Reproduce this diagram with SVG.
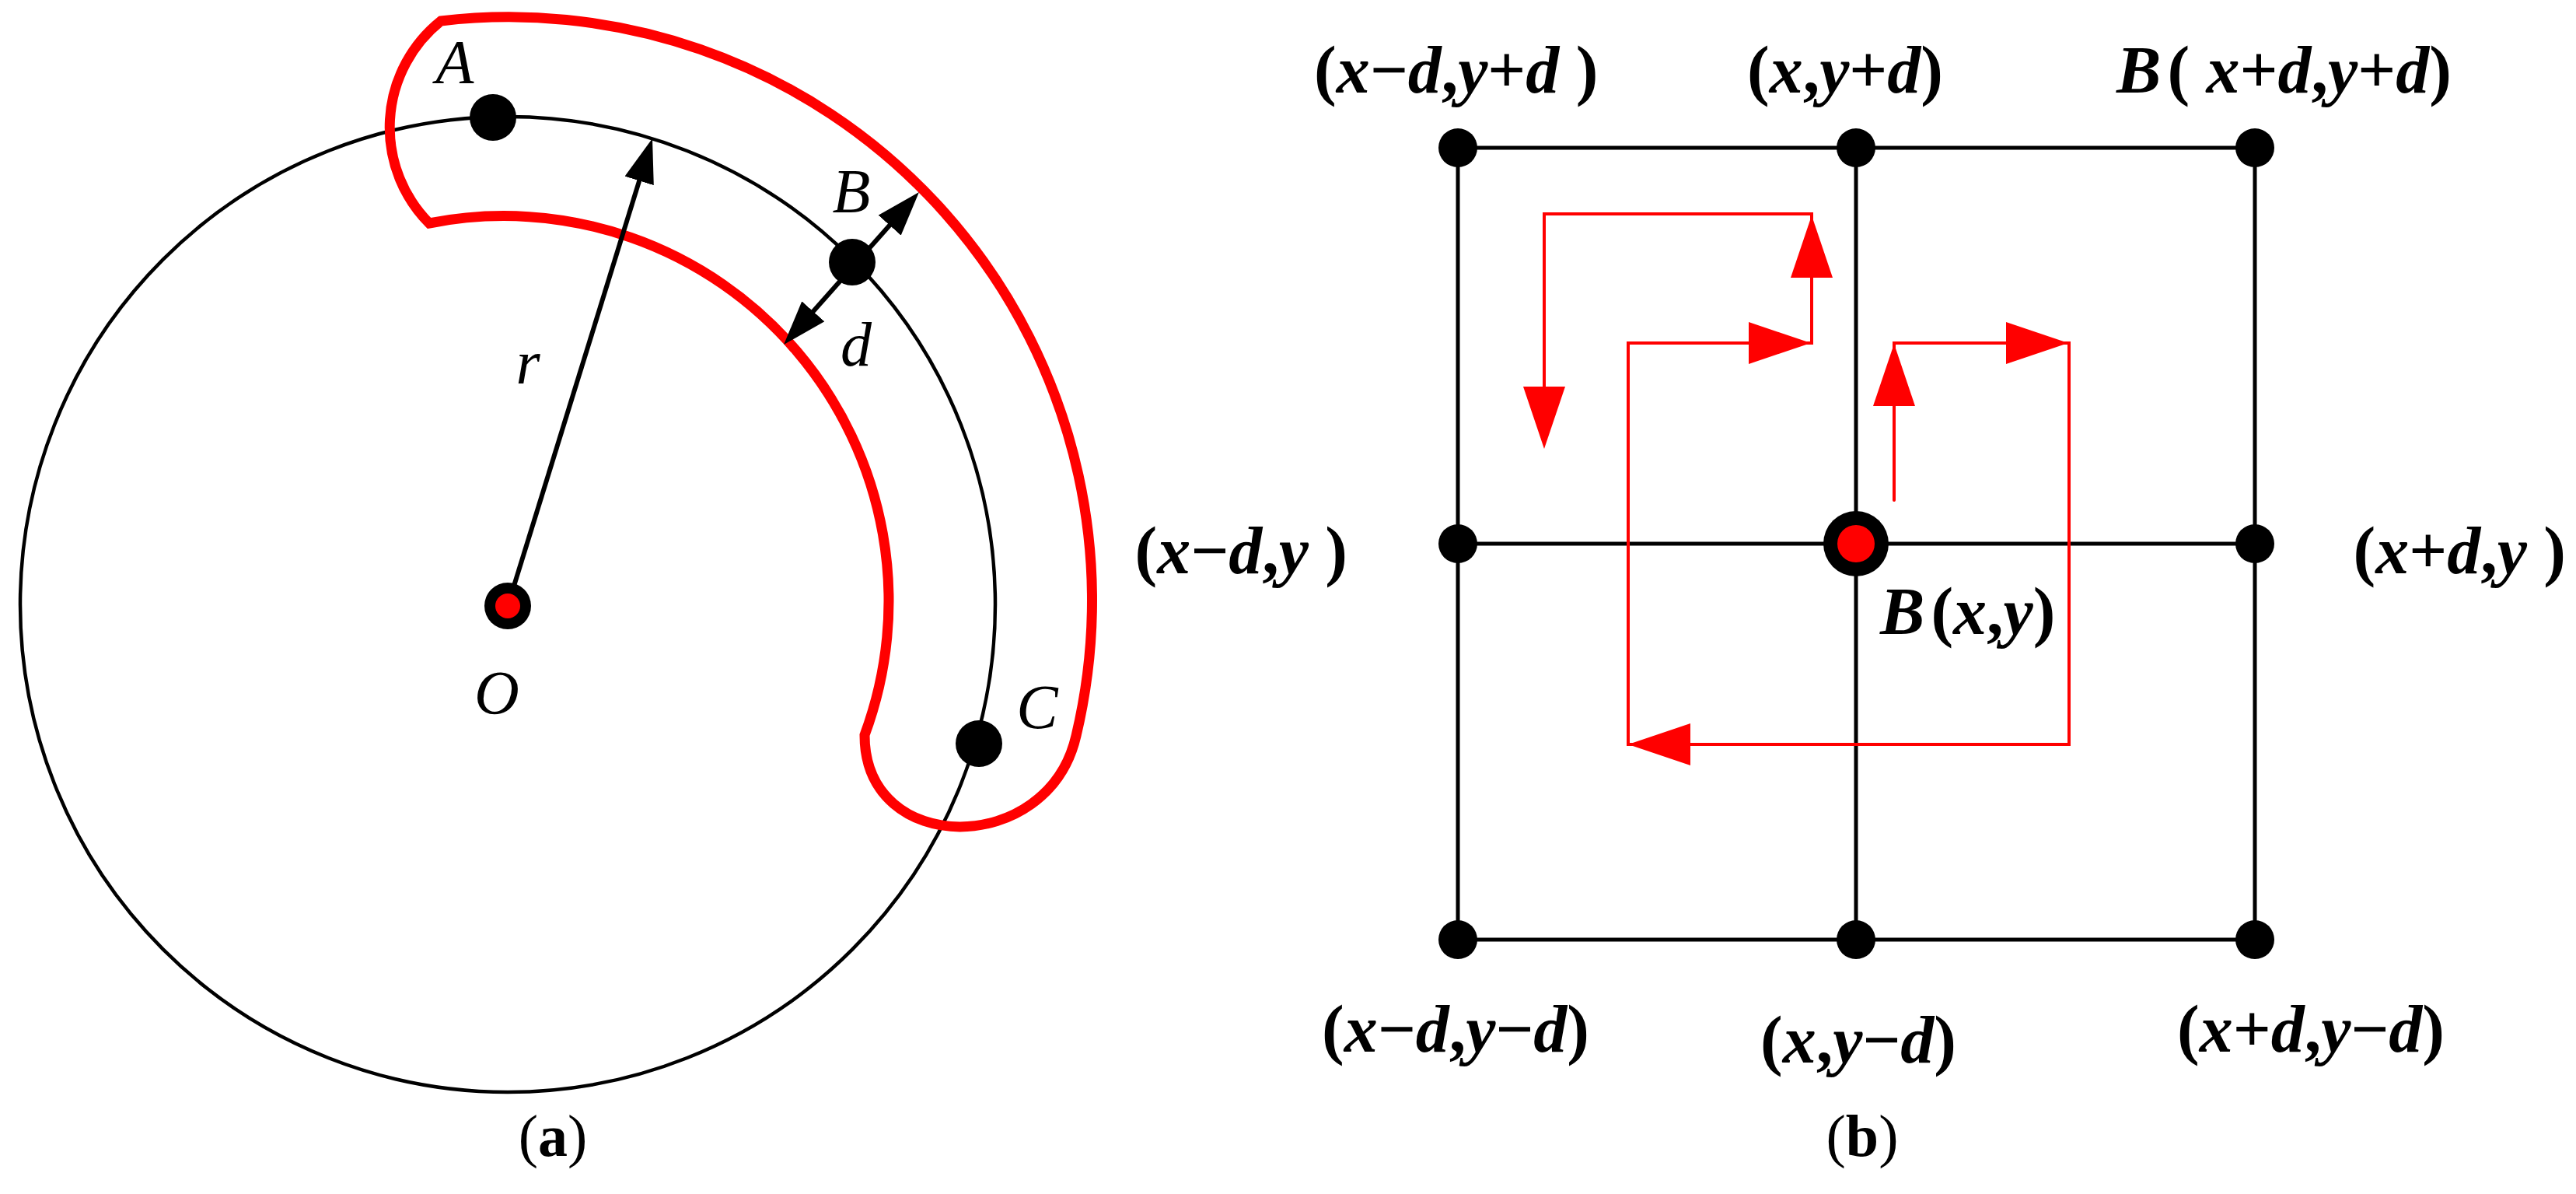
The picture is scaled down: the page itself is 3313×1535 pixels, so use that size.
<svg xmlns="http://www.w3.org/2000/svg" xmlns:xlink="http://www.w3.org/1999/xlink" width="3313" height="1535" viewBox="0 0 3313 1535">
<style>
.lbl{font-family:"Liberation Serif","Times New Roman",serif;font-style:italic;font-size:80px;fill:#000;text-anchor:middle}
.co{font-family:"Liberation Serif","Times New Roman",serif;font-weight:bold;font-size:86px;fill:#000}
.i{font-style:italic}
.cap{font-family:"Liberation Serif","Times New Roman",serif;font-size:76px;fill:#000;text-anchor:middle}
.grid{stroke:#000;stroke-width:5;fill:none}
.dot{fill:#000}
.red{stroke:#FF0000;fill:none}
</style>
<defs>
<marker id="ab" markerUnits="userSpaceOnUse" markerWidth="57" markerHeight="39" viewBox="0 0 57 39" refX="37" refY="19.5" orient="auto-start-reverse">
<path d="M0,0 L57,19.5 L0,39 Z" fill="#000"/>
</marker>
<path id="rh" d="M0,0 L-80,-27 L-80,27 Z" fill="#FF0000"/>
</defs>
<rect width="3313" height="1535" fill="#fff"/>

<!-- Panel (a) -->
<g id="circle"><circle cx="653" cy="777" r="627" fill="none" stroke="#000" stroke-width="4.5"/></g>
<g id="band"><path class="red" stroke-width="13" stroke-linejoin="miter" d="M567,27 A750,750 0 0 1 1384,946 C1348,1102 1112,1102 1112,945 A495,495 0 0 0 552,287 A175,175 0 0 1 567,27 Z"/></g>
<g id="connectors-a">
<line x1="653" y1="779" x2="833.1" y2="197.1" stroke="#000" stroke-width="6" marker-end="url(#ab)"/>
<line x1="1021.3" y1="428" x2="1168.7" y2="262" stroke="#000" stroke-width="6" marker-start="url(#ab)" marker-end="url(#ab)"/>
</g>
<g id="node-O"><circle cx="653" cy="779" r="30" fill="#000"/><circle cx="653" cy="779" r="16" fill="#FF0000"/><text class="lbl" x="639" y="918">O</text></g>
<g id="node-A"><circle class="dot" cx="634" cy="151" r="30"/><text class="lbl" x="585" y="107">A</text></g>
<g id="node-B"><circle class="dot" cx="1096" cy="337" r="30"/><text class="lbl" x="1095" y="273">B</text></g>
<g id="node-C"><circle class="dot" cx="1259" cy="956" r="30"/><text class="lbl" x="1334" y="936">C</text></g>
<g id="label-r"><text class="lbl" x="679" y="493">r</text></g>
<g id="label-d"><text class="lbl" x="1101" y="470">d</text></g>
<g id="caption-a"><text class="cap" x="711" y="1486">(<tspan font-weight="bold">a</tspan>)</text></g>

<!-- Panel (b) -->
<g id="grid">
<path class="grid" d="M1875,190 H2900 M1875,699 H2900 M1875,1208 H2900 M1875,190 V1208 M2387,190 V1208 M2900,190 V1208"/>
</g>
<g id="spiral">
<path class="red" stroke-width="4" stroke-linecap="round" stroke-linejoin="miter" d="M2436,643 V441 H2661 V957 H2094 V441 H2330 V275 H1986 V567"/>
<use xlink:href="#rh" href="#rh" transform="translate(2436,442) rotate(-90)"/>
<use xlink:href="#rh" href="#rh" transform="translate(2660,441)"/>
<use xlink:href="#rh" href="#rh" transform="translate(2094,957) rotate(180)"/>
<use xlink:href="#rh" href="#rh" transform="translate(2329,441)"/>
<use xlink:href="#rh" href="#rh" transform="translate(2330,277) rotate(-90)"/>
<use xlink:href="#rh" href="#rh" transform="translate(1986,577) rotate(90)"/>
</g>
<g id="n-tl"><circle class="dot" cx="1875" cy="190" r="25"/><text class="co" x="1690" y="119">(<tspan class="i">x</tspan>−<tspan class="i">d</tspan>,<tspan class="i">y</tspan>+<tspan class="i">d</tspan> )</text></g>
<g id="n-tm"><circle class="dot" cx="2387" cy="190" r="25"/><text class="co" x="2247" y="119">(<tspan class="i">x</tspan>,<tspan class="i">y</tspan>+<tspan class="i">d</tspan>)</text></g>
<g id="n-tr"><circle class="dot" cx="2900" cy="190" r="25"/><text class="co" x="2722" y="119"><tspan class="i">B</tspan><tspan dx="8">(</tspan> <tspan class="i">x</tspan>+<tspan class="i">d</tspan>,<tspan class="i">y</tspan>+<tspan class="i">d</tspan>)</text></g>
<g id="n-ml"><circle class="dot" cx="1875" cy="699" r="25"/><text class="co" x="1733" y="737" text-anchor="end">(<tspan class="i">x</tspan>−<tspan class="i">d</tspan>,<tspan class="i">y</tspan> )</text></g>
<g id="n-c"><circle cx="2387" cy="699" r="42" fill="#000"/><circle cx="2387" cy="699" r="24" fill="#FF0000"/><text class="co" x="2418" y="815"><tspan class="i">B</tspan><tspan dx="8">(</tspan><tspan class="i">x</tspan>,<tspan class="i">y</tspan>)</text></g>
<g id="n-mr"><circle class="dot" cx="2900" cy="699" r="25"/><text class="co" x="3300" y="737" text-anchor="end">(<tspan class="i">x</tspan>+<tspan class="i">d</tspan>,<tspan class="i">y</tspan> )</text></g>
<g id="n-bl"><circle class="dot" cx="1875" cy="1208" r="25"/><text class="co" x="1700" y="1352">(<tspan class="i">x</tspan>−<tspan class="i">d</tspan>,<tspan class="i">y</tspan>−<tspan class="i">d</tspan>)</text></g>
<g id="n-bm"><circle class="dot" cx="2387" cy="1208" r="25"/><text class="co" x="2264" y="1366">(<tspan class="i">x</tspan>,<tspan class="i">y</tspan>−<tspan class="i">d</tspan>)</text></g>
<g id="n-br"><circle class="dot" cx="2900" cy="1208" r="25"/><text class="co" x="2800" y="1352">(<tspan class="i">x</tspan>+<tspan class="i">d</tspan>,<tspan class="i">y</tspan>−<tspan class="i">d</tspan>)</text></g>
<g id="caption-b"><text class="cap" x="2395" y="1486">(<tspan font-weight="bold">b</tspan>)</text></g>
</svg>
